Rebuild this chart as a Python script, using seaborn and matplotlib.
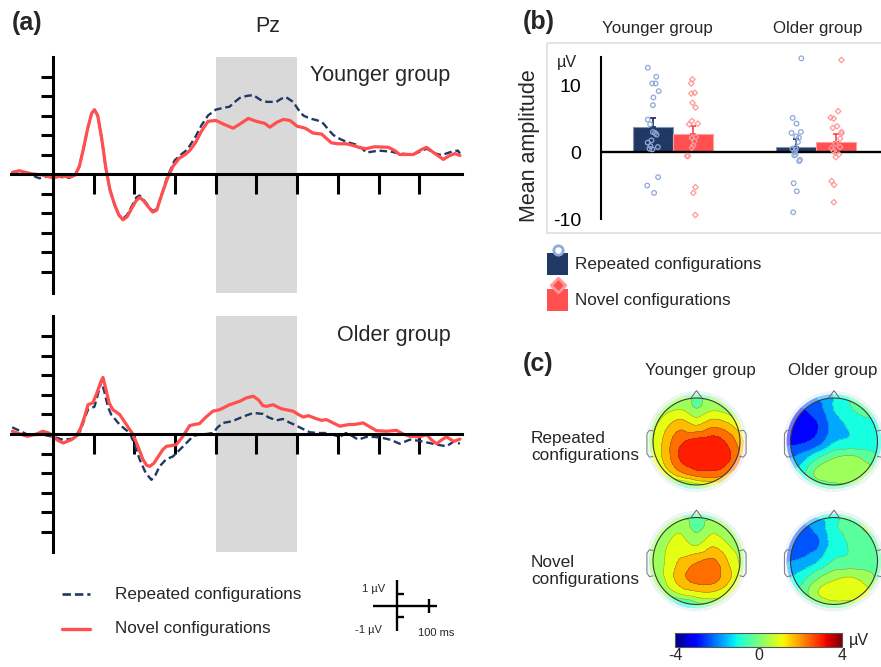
import numpy as np
import pandas as pd
import matplotlib
matplotlib.use("Agg")
import matplotlib.pyplot as plt
import matplotlib.tri as mtri
from matplotlib.patches import Circle, Wedge, Rectangle, Polygon
from matplotlib.cm import ScalarMappable
from matplotlib.colors import Normalize
import seaborn as sns

sns.set_theme(style="white")
plt.rcParams["font.family"] = ["Liberation Sans", "DejaVu Sans"]

# ---------------- data: panel (a) ERP at Pz ----------------
YR_T = [-100, -83, -60, -33, -10, 0, 20, 40, 55, 65, 75, 85, 95, 102, 110, 120, 130, 140, 152, 162,
        172, 182, 195, 205, 213, 222, 235, 245, 255, 265, 280, 299, 315, 330, 350, 365, 381, 400,
        420, 434, 447, 459, 475, 492, 510, 525, 549, 560, 572, 590, 603, 615, 631, 650, 664, 680,
        689, 705, 721, 746, 760, 770, 800, 830, 852, 885, 918, 940, 955, 980, 995, 1000]
YR_V = [0.1, 0.15, 0.0, -0.22, -0.1, -0.1, -0.15, -0.2, -0.05, 0.4, 1.3, 2.3, 3.1, 3.3, 3.0, 1.8,
        0.3, -0.8, -1.6, -2.1, -2.3, -2.1, -1.6, -1.2, -1.1, -1.3, -1.65, -1.9, -1.8, -1.2, -0.2,
        0.7, 1.0, 1.25, 1.9, 2.5, 3.0, 3.3, 3.4, 3.45, 3.7, 3.9, 4.0, 4.05, 3.8, 3.7, 3.7, 3.85,
        3.95, 3.7, 3.3, 3.0, 2.85, 2.75, 2.6, 2.2, 2.0, 1.8, 1.65, 1.5, 1.3, 1.1, 1.2, 1.15, 1.05,
        1.0, 1.3, 1.05, 0.97, 1.15, 1.2, 1.05]
YN_T = [-100, -83, -70, -50, -25, 0, 20, 40, 55, 65, 75, 85, 95, 102, 110, 120, 130, 140, 152, 162,
        172, 182, 195, 205, 213, 222, 235, 245, 255, 265, 280, 295, 310, 325, 336, 350, 365, 381,
        400, 420, 443, 462, 480, 500, 520, 533, 550, 566, 582, 600, 620, 639, 660, 684, 700, 721,
        740, 754, 770, 790, 824, 840, 852, 885, 905, 918, 935, 959, 975, 988, 1000]
YN_V = [0.07, 0.17, 0.1, 0.0, -0.05, -0.2, -0.1, -0.15, -0.05, 0.4, 1.3, 2.3, 3.1, 3.3, 3.0, 1.8,
        0.3, -0.8, -1.6, -2.1, -2.35, -2.2, -1.7, -1.35, -1.2, -1.35, -1.7, -1.95, -1.85, -1.2,
        -0.3, 0.4, 0.8, 1.0, 1.2, 1.6, 2.2, 2.7, 2.75, 2.55, 2.35, 2.6, 2.85, 2.7, 2.6, 2.4, 2.65,
        2.8, 2.75, 2.45, 2.35, 2.1, 2.05, 1.6, 1.55, 1.55, 1.45, 1.35, 1.3, 1.4, 1.37, 1.2, 1.0,
        1.0, 1.25, 1.37, 1.1, 0.75, 0.95, 1.05, 0.95]
OR_T = [-100, -80, -63, -40, -25, -10, 10, 25, 45, 57, 68, 78, 86, 102, 110, 119, 126, 135, 143,
        155, 164, 180, 189, 200, 213, 228, 242, 252, 262, 278, 295, 312, 328, 345, 360, 377, 393,
        405, 418, 440, 459, 475, 492, 516, 530, 549, 565, 580, 598, 615, 631, 650, 672, 690, 705,
        720, 735, 750, 770, 790, 810, 830, 852, 877, 900, 918, 945, 967, 985, 1000]
OR_V = [0.34, 0.15, -0.03, -0.05, -0.03, -0.1, -0.2, -0.3, -0.25, -0.2, 0.2, 0.8, 1.25, 1.4, 2.0,
        2.7, 2.2, 1.4, 1.0, 0.7, 0.48, 0.2, 0.05, -0.5, -1.3, -2.0, -2.35, -2.1, -1.66, -1.3,
        -1.15, -0.8, -0.46, -0.1, -0.03, 0.0, 0.05, 0.35, 0.57, 0.65, 0.82, 0.95, 1.08, 1.03, 0.85,
        0.7, 0.77, 0.6, 0.43, 0.25, 0.09, 0.05, 0.05, -0.05, -0.15, 0.05, -0.1, -0.29, -0.15,
        -0.15, -0.2, -0.3, -0.5, -0.29, -0.35, -0.43, -0.55, -0.63, -0.38, -0.5]
ON_T = [-100, -80, -63, -40, -25, -10, 10, 25, 45, 57, 68, 78, 86, 98, 108, 118, 123, 130, 138, 147,
        164, 180, 197, 210, 221, 230, 238, 248, 259, 270, 279, 290, 303, 320, 336, 350, 360, 375,
        393, 410, 434, 459, 475, 492, 505, 516, 525, 541, 560, 590, 603, 615, 628, 645, 660, 672,
        690, 705, 725, 745, 762, 780, 795, 820, 844, 860, 877, 900, 918, 930, 943, 955, 967, 985,
        1000]
ON_V = [0.14, 0.0, -0.12, 0.0, 0.14, 0.05, -0.3, -0.46, -0.3, -0.12, 0.3, 0.9, 1.5, 1.6, 2.1, 2.7,
        2.9, 2.3, 1.6, 1.25, 1.0, 0.5, -0.03, -0.7, -1.3, -1.6, -1.66, -1.5, -1.15, -0.8, -0.63,
        -0.6, -0.55, -0.1, 0.43, 0.5, 0.53, 0.85, 1.17, 1.25, 1.5, 1.68, 1.85, 1.94, 1.75, 1.45,
        1.42, 1.5, 1.3, 1.17, 1.0, 0.87, 0.94, 0.8, 0.7, 0.74, 0.55, 0.4, 0.48, 0.5, 0.57, 0.35,
        0.17, 0.14, 0.19, 0.0, -0.12, -0.15, -0.03, -0.3, -0.5, -0.3, -0.15, -0.38, -0.26]

# ---------------- data: panel (b) mean amplitude ----------------
GROUPS = ["Younger group", "Older group"]
CONDS = ["Repeated configurations", "Novel configurations"]
MEAN_REP = [3.7, 0.75]
MEAN_NOV = [2.65, 1.5]
SE_REP = [1.4, 1.15]
SE_NOV = [1.25, 1.15]
PTS_YR = [12.6, 11.25, 10.25, 10.25, 9.1, 8.15, 7.0, 4.85, 4.15, 3.0, 2.85, 2.6, 1.75, 1.4,
          0.9, 0.75, 0.5, 0.4, -3.75, -5.0, -6.1]
PTS_YN = [10.85, 10.25, 8.85, 8.75, 7.35, 6.65, 4.65, 4.25, 4.15, 2.25, 2.15, 2.1, 1.6, 1.0,
          0.65, -0.6, -0.6, -5.25, -6.1, -9.4]
PTS_OR = [14.0, 5.1, 4.25, 3.0, 2.85, 2.35, 2.15, 1.5, 0.65, 0.5, 0.35, 0.0, -0.35, -0.5,
          -1.15, -1.35, -4.65, -5.85, -9.0]
PTS_ON = [13.75, 6.1, 5.15, 5.0, 3.85, 3.6, 3.0, 2.75, 2.0, 1.25, 0.75, 0.6, 0.15, -0.15,
          -0.35, -0.75, -4.35, -4.9, -7.5]

# ---------------- data: panel (c) topographies (uV, rows front->back, cols left->right) ----------------
TOPO_YR = [[-1.0, -0.6, -0.3, -0.3, -0.3, -0.6, -1.0],
           [-0.4, 0.3, 0.6, 0.0, 0.5, 0.2, -0.3],
           [0.0, 1.0, 1.7, 1.3, 1.8, 1.4, 0.4],
           [0.1, 1.4, 2.5, 2.9, 3.0, 2.4, 1.1],
           [0.2, 1.4, 2.7, 3.15, 3.15, 2.7, 1.5],
           [-0.3, 0.6, 1.6, 2.2, 2.3, 1.8, 1.0],
           [-1.6, -2.0, -1.8, -1.0, -0.5, 0.0, 0.3]]
TOPO_OR = [[-2.0, -2.2, -1.8, -1.3, -0.6, -0.4, -0.8],
           [-2.6, -2.7, -2.3, -1.3, -0.7, -0.4, -0.8],
           [-2.9, -3.0, -2.7, -1.7, -1.2, -0.9, -1.2],
           [-2.9, -2.8, -2.4, -1.4, -1.2, -1.1, -1.3],
           [-2.3, -1.7, -0.7, 0.0, 0.2, -0.2, -1.0],
           [-1.8, -1.0, 0.2, 0.55, 0.55, 0.3, -0.6],
           [-1.8, -1.6, -1.2, -0.9, -0.8, -0.9, -1.2]]
TOPO_YN = [[-1.0, -0.7, -0.4, -0.5, -0.4, -0.7, -1.0],
           [-0.5, 0.2, 0.5, -0.2, 0.4, 0.1, -0.5],
           [-0.2, 0.5, 0.9, 0.6, 1.2, 0.6, -0.1],
           [-0.2, 0.6, 1.4, 1.9, 2.1, 1.2, 0.1],
           [-0.2, 0.6, 1.7, 2.3, 2.3, 1.4, 0.1],
           [-0.6, 0.0, 0.6, 1.0, 1.1, 0.6, -0.3],
           [-2.8, -3.3, -2.4, -1.2, -0.8, -0.7, -1.0]]
TOPO_ON = [[-1.4, -1.4, -1.0, -0.8, -0.2, 0.0, -0.4],
           [-2.0, -2.2, -1.8, -0.8, -0.4, 0.1, -0.3],
           [-2.3, -2.4, -2.1, -1.0, -0.6, -0.3, -0.6],
           [-2.1, -1.9, -1.4, -0.6, -0.5, -0.4, -0.6],
           [-1.6, -1.0, -0.1, 0.5, 0.7, 0.3, -0.5],
           [-1.4, -0.5, 0.6, 1.22, 1.25, 0.7, -0.4],
           [-1.4, -1.2, -1.0, -0.8, -0.8, -0.8, -1.0]]

NAVY = "#203864"
RED = "#ff4f4f"
LBLUE = "#8eaadb"
LRED = "#ff9a9a"

W, H = 881, 667
fig = plt.figure(figsize=(W / 100, H / 100), dpi=100)


def px_axes(x0, y0, x1, y1, **kw):
    return fig.add_axes([x0 / W, 1 - y1 / H, (x1 - x0) / W, (y1 - y0) / H], **kw)


# overlay for annotations in pixel coordinates
ov = px_axes(0, 0, W, H, zorder=-5)
ov.set_xlim(0, W)
ov.set_ylim(H, 0)
ov.axis("off")

# ---------------- panel (a) ----------------
def erp_panel(ax, rt, rv, nt, nv, ylim):
    ax.axvspan(400, 600, color="#d9d9d9", lw=0, zorder=0)
    df_r = pd.DataFrame({"t": rt, "v": rv})
    df_n = pd.DataFrame({"t": nt, "v": nv})
    sns.lineplot(data=df_r, x="t", y="v", color=NAVY, lw=1.7, estimator=None, ax=ax, zorder=3)
    ax.lines[-1].set_linestyle((0, (3.2, 1.6)))
    sns.lineplot(data=df_n, x="t", y="v", color=RED, lw=2.3, estimator=None, ax=ax, zorder=4)
    ax.set_xlim(-103, 1005)
    ax.set_ylim(*ylim)
    for s in ["top", "right"]:
        ax.spines[s].set_visible(False)
    ax.spines["left"].set_position(("data", 0))
    ax.spines["bottom"].set_position(("data", 0))
    for s in ["left", "bottom"]:
        ax.spines[s].set_linewidth(2.2)
        ax.spines[s].set_color("black")
        ax.spines[s].set_zorder(5)
    ax.set_yticks([-5, -4, -3, -2, -1, 1, 2, 3, 4, 5])
    ax.set_xticks(list(range(100, 1000, 100)))
    ax.tick_params(axis="y", left=True, direction="out", length=9, width=2.2, color="black",
                   labelleft=False)
    ax.tick_params(axis="x", bottom=True, direction="out", length=14.5, width=2.2, color="black",
                   labelbottom=False)
    ax.set_xlabel("")
    ax.set_ylabel("")
    ax.patch.set_alpha(0)


ax_y = px_axes(11, 57, 462, 293)
erp_panel(ax_y, YR_T, YR_V, YN_T, YN_V, (-6.1, 6.0))
ax_o = px_axes(11, 316, 462, 552)
erp_panel(ax_o, OR_T, OR_V, ON_T, ON_V, (-6.05, 6.05))

ov.text(12, 23, "(a)", fontsize=18, fontweight="bold", ha="left", va="center")
ov.text(268, 27, "Pz", fontsize=15.5, ha="center", va="center")
ov.text(310, 75, "Younger group", fontsize=15.5, ha="left", va="center")
ov.text(337, 335, "Older group", fontsize=15.5, ha="left", va="center")

# legend (a)
ov.plot([62, 90], [594, 594], color=NAVY, lw=1.9, ls=(0, (3.2, 1.5)))
ov.plot([62, 90], [629, 629], color=RED, lw=2.4)
ov.text(115, 594, "Repeated configurations", fontsize=12.3, va="center", ha="left")
ov.text(115, 629, "Novel configurations", fontsize=12.3, va="center", ha="left")
# scale bar
for (xa, xb, ya, yb) in [(397, 397, 580, 631), (373, 437, 606, 606), (429, 429, 599, 613),
                         (397, 404, 594, 594), (397, 404, 617, 617)]:
    ov.plot([xa, xb], [ya, yb], color="black", lw=1.7, solid_capstyle="butt")
ov.text(385, 589, "1 \u00b5V", fontsize=8, ha="right", va="center")
ov.text(382, 630, "-1 \u00b5V", fontsize=8, ha="right", va="center")
ov.text(418, 633, "100 ms", fontsize=8, ha="left", va="center")

# ---------------- panel (b) ----------------
ov.add_patch(Rectangle((547, 43), 345, 190, fill=False, ec="#e2e2e2", lw=1.3))
axb = px_axes(601, 57, 881, 219)
bar_df = pd.DataFrame({
    "group": GROUPS + GROUPS,
    "cond": [CONDS[0]] * 2 + [CONDS[1]] * 2,
    "mean": MEAN_REP + MEAN_NOV,
})
sns.barplot(data=bar_df, x="group", y="mean", hue="cond", order=GROUPS, hue_order=CONDS,
            palette=[NAVY, RED], width=0.56, errorbar=None, saturation=1, legend=False, ax=axb)
XL = (-0.503, 1.455)
YL = (-10, 14.2)
axb.set_xlim(*XL)
axb.set_ylim(*YL)

centers = {}
for p in axb.patches:
    cx = p.get_x() + p.get_width() / 2
    gi = int(round(cx))
    ci = 0 if cx < gi else 1
    centers[(gi, ci)] = cx
    p.set_edgecolor("#8497b0" if ci == 0 else "#ff9f9f")
    p.set_linewidth(0.8)
for gi in range(2):
    for ci, (means, ses, col) in enumerate([(MEAN_REP, SE_REP, NAVY), (MEAN_NOV, SE_NOV, RED)]):
        axb.errorbar([centers[(gi, ci)]], [means[gi]], yerr=[[0], [ses[gi]]], fmt="none",
                     ecolor=col, elinewidth=1.3, capsize=2.2, capthick=1.3, zorder=4)

axb.axhline(0, color="black", lw=1.7, zorder=5)
for s in ["top", "right", "bottom"]:
    axb.spines[s].set_visible(False)
axb.spines["left"].set_color("black")
axb.spines["left"].set_linewidth(1.5)
axb.set_yticks([-10, 0, 10])
axb.set_yticklabels(["-10", "0", "10"])
axb.tick_params(axis="y", length=0, labelsize=14, pad=14, colors="black")
axb.set_xticks([])
axb.set_xlabel("")
axb.set_ylabel("")

# points overlay
axp = px_axes(601, 57, 881, 219)
pt_rows = []
for gi, (rep, nov) in enumerate([(PTS_YR, PTS_YN), (PTS_OR, PTS_ON)]):
    for v in rep:
        pt_rows.append((GROUPS[gi], CONDS[0], centers[(gi, 0)], v))
    for v in nov:
        pt_rows.append((GROUPS[gi], CONDS[1], centers[(gi, 1)], v))
pt_df = pd.DataFrame(pt_rows, columns=["group", "cond", "pos", "value"])
np.random.seed(7)
for ci, mk, sz in [(0, "o", 3.3), (1, "D", 2.8)]:
    sub = pt_df[pt_df.cond == CONDS[ci]]
    sns.stripplot(data=sub, x="pos", y="value", hue="cond", hue_order=CONDS,
                  palette=[LBLUE, LRED], native_scale=True, orient="x", jitter=0.042,
                  marker=mk, size=sz, legend=False, ax=axp)
for coll in axp.collections:
    fc = coll.get_facecolors()
    coll.set_edgecolors(fc)
    coll.set_facecolors("none")
    coll.set_linewidth(0.9)
    coll.set_clip_on(False)
axp.set_xlim(*XL)
axp.set_ylim(*YL)
axp.axis("off")

ov.text(523, 22, "(b)", fontsize=18, fontweight="bold", ha="left", va="center")
ov.text(657, 29, "Younger group", fontsize=12.2, ha="center", va="center")
ov.text(818, 29, "Older group", fontsize=12.2, ha="center", va="center")
ov.text(567, 62, "\u00b5V", fontsize=11.6, ha="center", va="center")
ov.text(530, 146, "Mean amplitude", fontsize=15.5, rotation=90, ha="center", va="center")

# legend (b)
ov.add_patch(Rectangle((547, 253), 21, 22, fc=NAVY, ec="none"))
ov.scatter([557.5], [250], s=45, marker="o", facecolors="white", edgecolors=LBLUE, linewidths=2, zorder=3)
ov.add_patch(Rectangle((547, 289), 21, 22, fc=RED, ec="none"))
ov.scatter([557.5], [285], s=55, marker="D", facecolors=RED, edgecolors=LRED, linewidths=2, zorder=3)
ov.text(575, 265, "Repeated configurations", fontsize=12.3, ha="left", va="center")
ov.text(575, 301, "Novel configurations", fontsize=12.3, ha="left", va="center")

# ---------------- panel (c) ----------------
NODES = np.linspace(-1.15, 1.15, 7)
GX, GY = np.meshgrid(NODES, NODES[::-1])
TRI = mtri.Triangulation(GX.ravel(), GY.ravel())
FINE = np.linspace(-1.149, 1.149, 261)
FX, FY = np.meshgrid(FINE, FINE)
LEVELS = np.linspace(-4, 4, 13)


def topo(cx, cy, grid):
    r = 43.5
    half = 57
    ax = px_axes(cx - half, cy - half, cx + half, cy + half)
    lim = half / r
    ax.set_xlim(-lim, lim)
    ax.set_ylim(-lim, lim)
    ax.axis("off")
    interp = mtri.CubicTriInterpolator(TRI, np.asarray(grid, float).ravel(), kind="geom")
    fz = interp(FX, FY)
    cs = ax.contourf(FX, FY, fz, levels=LEVELS, cmap="jet", extend="both")
    cs.set_clip_path(Circle((0, 0), 1.09, transform=ax.transData))
    ln = ax.contour(FX, FY, fz, levels=LEVELS, colors="#3a3a3a", linewidths=0.35, alpha=0.55)
    ln.set_clip_path(Circle((0, 0), 1.0, transform=ax.transData))
    ax.add_patch(Wedge((0, 0), 1.1, 0, 360, width=0.1, fc="white", alpha=0.45, lw=0))
    ax.add_patch(Wedge((0, 0), 1.16, 0, 360, width=0.06, fc="#dfe8f5", alpha=0.5, lw=0))
    ax.add_patch(Circle((0, 0), 1.0, fill=False, ec="#3a3a3a", lw=0.8))
    ax.add_patch(Polygon([(-0.13, 0.992), (0.0, 1.17), (0.13, 0.992)], closed=False,
                         fill=False, ec="#666666", lw=0.7))
    for sgn in (-1, 1):
        ex = [sgn * 0.995, sgn * 1.08, sgn * 1.14, sgn * 1.14, sgn * 1.08, sgn * 0.995]
        ey = [0.24, 0.26, 0.18, -0.28, -0.36, -0.34]
        ax.plot(ex, ey, color="#777777", lw=0.7)


topo(696.5, 441.5, TOPO_YR)
topo(834, 441.5, TOPO_OR)
topo(696.5, 561, TOPO_YN)
topo(834, 561, TOPO_ON)

ov.text(523, 364, "(c)", fontsize=18, fontweight="bold", ha="left", va="center")
ov.text(700, 370, "Younger group", fontsize=12.2, ha="center", va="center")
ov.text(833, 370, "Older group", fontsize=12.2, ha="center", va="center")
ov.text(531, 447, "Repeated\nconfigurations", fontsize=12.4, ha="left", va="center", linespacing=1.1)
ov.text(531, 571, "Novel\nconfigurations", fontsize=12.4, ha="left", va="center", linespacing=1.1)

cax = px_axes(675, 633, 842, 647)
cb = fig.colorbar(ScalarMappable(norm=Normalize(-4, 4), cmap="jet"), cax=cax,
                  orientation="horizontal", ticks=[-4, 0, 4])
cb.ax.set_xticklabels(["-4", "0", "4"])
cb.ax.tick_params(length=0, labelsize=11.5, pad=1)
cb.outline.set_linewidth(0.8)
cb.outline.set_edgecolor("#555555")
ov.text(849, 640, "\u00b5V", fontsize=11.6, ha="left", va="center")

fig.savefig("out.png", dpi=100)
